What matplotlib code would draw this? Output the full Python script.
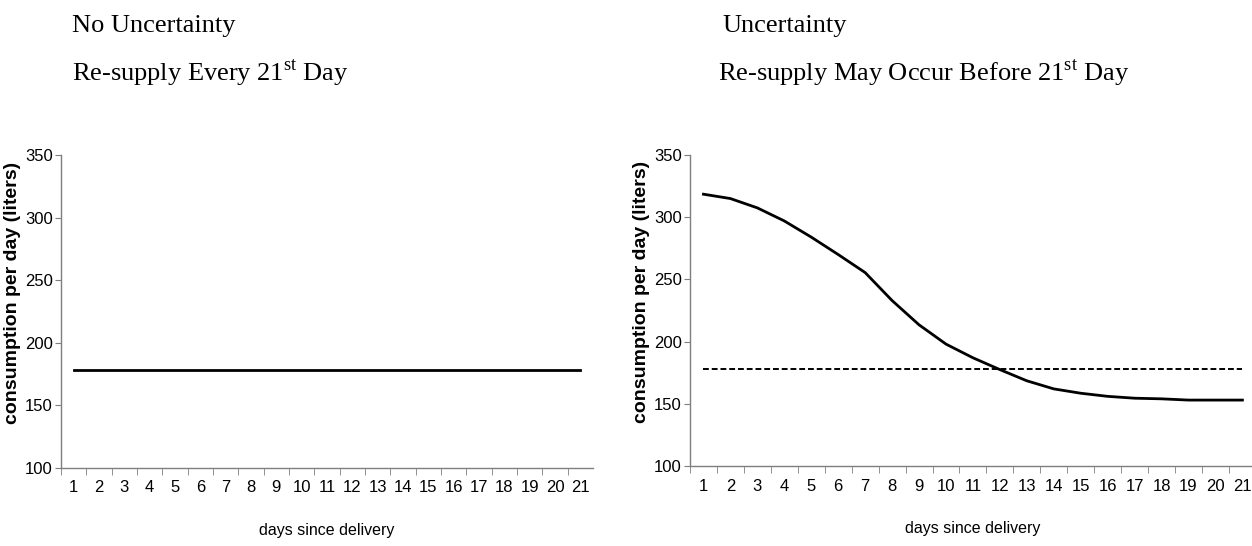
import matplotlib
matplotlib.use("Agg")
import matplotlib.pyplot as plt
from matplotlib.ticker import FixedLocator, NullFormatter

# data
days = list(range(1, 22))
no_uncertainty = [178] * 21
uncertainty = [318.5, 315, 307.5, 297, 284, 270, 255.5, 233, 213.5, 198,
               187, 177.5, 168.5, 162, 158.5, 156, 154.5, 154, 153, 153, 153]
avg_level = [178] * 21
y_ticks = [100, 150, 200, 250, 300, 350]

plt.rcParams["mathtext.fontset"] = "custom"
plt.rcParams["mathtext.rm"] = "Liberation Serif"

NARROW = ["Liberation Sans Narrow", "Liberation Sans", "DejaVu Sans"]
AXIS_GREY = "#7f7f7f"


def style_axes(ax):
    ax.set_xlim(0.5, 21.5)
    ax.set_ylim(100, 350)
    for side in ("top", "right"):
        ax.spines[side].set_visible(False)
    for side in ("left", "bottom"):
        ax.spines[side].set_color(AXIS_GREY)
        ax.spines[side].set_linewidth(1.0)
    ax.set_yticks(y_ticks)
    ax.set_yticklabels([str(v) for v in y_ticks], family=NARROW, fontsize=12)
    ax.set_xticks(days)
    ax.set_xticklabels([str(d) for d in days], family=NARROW, fontsize=12)
    ax.xaxis.set_minor_locator(FixedLocator([d + 0.5 for d in days[:-1]] + [0.5]))
    ax.xaxis.set_minor_formatter(NullFormatter())
    ax.tick_params(axis="x", which="major", length=0, pad=9)
    ax.tick_params(axis="x", which="minor", length=5, color=AXIS_GREY, direction="out")
    ax.tick_params(axis="y", length=4, color=AXIS_GREY, direction="out", pad=2)
    ax.set_ylabel("consumption per day (liters)", family="Liberation Sans",
                  fontweight="bold", fontsize=14)
    ax.yaxis.set_label_coords(-0.075, 0.56)
    ax.set_xlabel("days since delivery", family=NARROW, fontsize=11.5, labelpad=20)


fig = plt.figure(figsize=(12.52, 5.46), dpi=100)

ax1 = fig.add_axes([0.0487, 0.1429, 0.425, 0.573])
ax1.plot(days, no_uncertainty, color="black", linewidth=2)
style_axes(ax1)

ax2 = fig.add_axes([0.5511, 0.1465, 0.452, 0.5696])
ax2.plot(days, uncertainty, color="black", linewidth=2)
ax2.plot(days, avg_level, color="black", linewidth=1.4, linestyle=(0, (3, 1.5)))
style_axes(ax2)
ax2.yaxis.set_label_coords(-0.07, 0.56)

title_kw = dict(family="Liberation Serif", fontsize=19, va="baseline", ha="left")
fig.text(72 / 1252, 1 - 32 / 546, "No Uncertainty", **title_kw)
fig.text(72 / 1252, 1 - 80 / 546, r"Re-supply Every 21$^{\mathrm{st}}$ Day", **title_kw)
fig.text(722 / 1252, 1 - 32 / 546, "Uncertainty", **title_kw)
fig.text(718 / 1252, 1 - 80 / 546, r"Re-supply May Occur Before 21$^{\mathrm{st}}$ Day", **title_kw)

fig.savefig("out.png", dpi=100)
plt.close(fig)
